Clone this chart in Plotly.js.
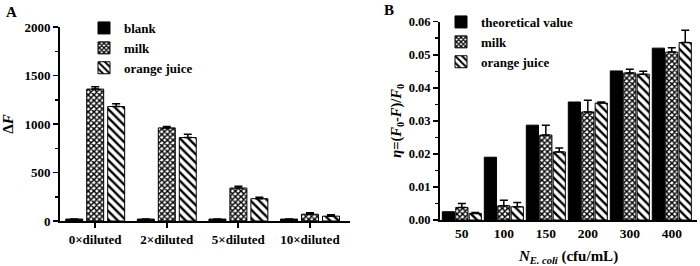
<!DOCTYPE html>
<html><head><meta charset="utf-8">
<script src="https://cdn.plot.ly/plotly-3.0.1.min.js"></script>
<style>html,body{margin:0;padding:0;background:#fff}#chart{width:700px;height:266px}</style>
</head><body><div id="chart"></div>
<script>
// Panel A data
const catsA = ['0×diluted', '2×diluted', '5×diluted', '10×diluted'];
const blankA = [20, 20, 20, 20];
const blankErrA = [0, 0, 0, 0];
const milkA = [1360, 960, 340, 70];
const milkErrA = [25, 15, 18, 15];
const orangeA = [1180, 860, 230, 50];
const orangeErrA = [30, 35, 15, 15];

// Panel B data
const catsB = ['50', '100', '150', '200', '300', '400'];
const theoB = [0.0025, 0.019, 0.0287, 0.0357, 0.0451, 0.052];
const milkB = [0.0038, 0.0043, 0.0257, 0.0327, 0.0445, 0.0508];
const milkErrB = [0.0012, 0.0017, 0.003, 0.0035, 0.0011, 0.0013];
const orangeB = [0.002, 0.004, 0.0206, 0.0354, 0.0441, 0.0537];
const orangeErrB = [0.0003, 0.0013, 0.0012, 0.0003, 0.0009, 0.0037];

const FONT = '"Liberation Serif", serif';
const f = (s) => ({family: FONT, size: s, color: '#000', weight: 'bold'});

const solid = {color: '#000', line: {color: '#000', width: 1}};
const checker = {color: '#fff', line: {color: '#000', width: 1},
  pattern: {shape: 'x', size: 4, solidity: 0.6, fgcolor: '#000', bgcolor: '#fff', fillmode: 'replace'}};
const hatch = {color: '#fff', line: {color: '#000', width: 1},
  pattern: {shape: '\\', size: 6, solidity: 0.4, fgcolor: '#000', bgcolor: '#fff', fillmode: 'replace'}};
const err = (arr) => ({type: 'data', symmetric: false, array: arr, arrayminus: arr.map(() => 0),
  color: '#000', thickness: 1.5, width: 4});

const wA = 0.237, wB = 0.29;
const traces = [
  {type: 'bar', name: 'blank', x: catsA, y: blankA, xaxis: 'x', yaxis: 'y', width: wA, offset: -0.41,
   marker: solid, error_y: err(blankErrA), legend: 'legend'},
  {type: 'bar', name: 'milk', x: catsA, y: milkA, xaxis: 'x', yaxis: 'y', width: wA, offset: -0.117,
   marker: checker, error_y: err(milkErrA), legend: 'legend'},
  {type: 'bar', name: 'orange juice', x: catsA, y: orangeA, xaxis: 'x', yaxis: 'y', width: wA, offset: 0.176,
   marker: hatch, error_y: err(orangeErrA), legend: 'legend'},
  {type: 'bar', name: 'theoretical value', x: catsB, y: theoB, xaxis: 'x2', yaxis: 'y2', width: wB, offset: -0.465,
   marker: solid, legend: 'legend2'},
  {type: 'bar', name: 'milk', x: catsB, y: milkB, xaxis: 'x2', yaxis: 'y2', width: wB, offset: -0.145,
   marker: checker, error_y: err(milkErrB), legend: 'legend2'},
  {type: 'bar', name: 'orange juice', x: catsB, y: orangeB, xaxis: 'x2', yaxis: 'y2', width: wB, offset: 0.175,
   marker: hatch, error_y: err(orangeErrB), legend: 'legend2'}
];

const axBase = {showline: true, linecolor: '#000', linewidth: 2, showgrid: false, zeroline: false,
  ticks: 'outside', tickcolor: '#000', fixedrange: true};

const layout = {
  width: 700, height: 266, margin: {l: 0, r: 0, t: 0, b: 0},
  paper_bgcolor: '#fff', plot_bgcolor: '#fff',
  barmode: 'group', showlegend: true,
  font: f(13),
  xaxis: Object.assign({}, axBase, {domain: [60/700, 350/700], anchor: 'y', type: 'category',
    range: [-0.49, 3.56], ticklen: 5, tickwidth: 2, tickfont: f(13)}),
  yaxis: Object.assign({}, axBase, {domain: [45/266, 239/266], anchor: 'x', range: [0, 2000], dtick: 500,
    ticklen: 5, tickwidth: 1.5, tickfont: f(13),
    minor: {dtick: 250, ticks: 'outside', ticklen: 3, tickwidth: 1.5, tickcolor: '#000'},
    title: {text: '<b>Δ<i>F</i></b>', font: f(15), standoff: 18}}),
  xaxis2: Object.assign({}, axBase, {domain: [440/700, 697/700], anchor: 'y2', type: 'category',
    range: [-0.52, 5.6], ticks: '', tickfont: f(13.5),
    title: {text: '<b><i>N</i><sub><i>E. coli</i></sub> (cfu/mL)</b>', font: f(15), standoff: 10}}),
  yaxis2: Object.assign({}, axBase, {domain: [46/266, 244.3/266], anchor: 'x2', range: [0, 0.06], dtick: 0.01,
    tickformat: '.2f', ticklen: 5, tickwidth: 1.5, tickfont: f(12.5),
    minor: {dtick: 0.005, ticks: 'outside', ticklen: 3, tickwidth: 1.5, tickcolor: '#000'},
    title: {text: '<b><i>η</i>=(<i>F</i><sub>0</sub>-<i>F</i>)/<i>F</i><sub>0</sub></b>', font: f(14.5), standoff: 4}}),
  legend: {x: 84/700, y: 1 - 13/266, xanchor: 'left', yanchor: 'top', bgcolor: 'rgba(0,0,0,0)',
    font: f(13), tracegroupgap: 0, itemwidth: 30},
  legend2: {x: 441/700, y: 1 - 7/266, xanchor: 'left', yanchor: 'top', bgcolor: 'rgba(0,0,0,0)',
    font: f(13), tracegroupgap: 0, itemwidth: 30},
  annotations: [
    {text: '<b>A</b>', x: 4/700, y: 1 - 2/266, xref: 'paper', yref: 'paper', xanchor: 'left', yanchor: 'top',
     showarrow: false, font: f(15)},
    {text: '<b>B</b>', x: 382/700, y: 1 - 0/266, xref: 'paper', yref: 'paper', xanchor: 'left', yanchor: 'top',
     showarrow: false, font: f(15)}
  ]
};

Plotly.newPlot('chart', traces, layout, {displayModeBar: false, staticPlot: true});
</script></body></html>
